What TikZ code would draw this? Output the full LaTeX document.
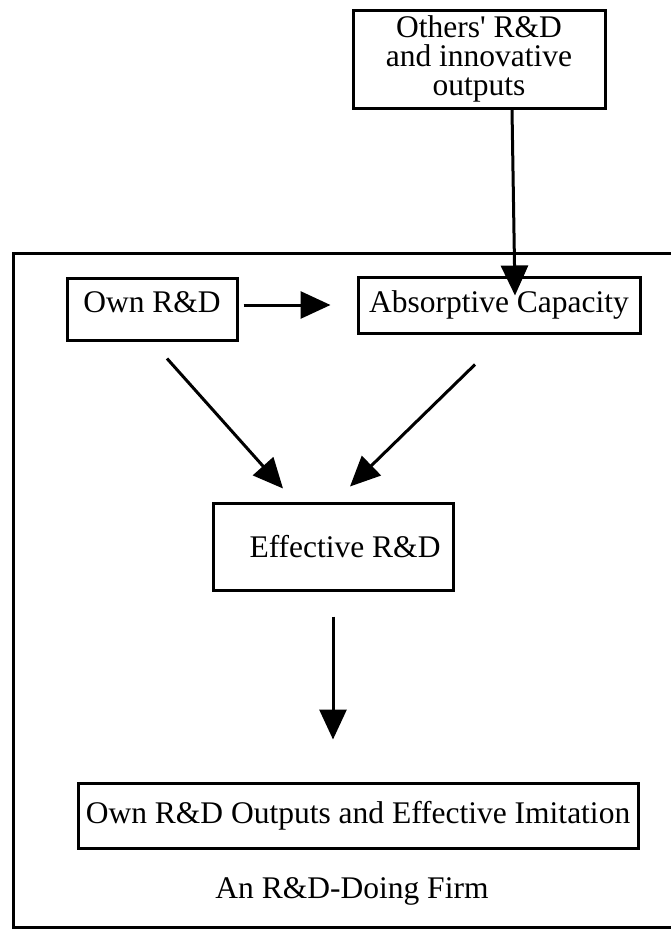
\documentclass[tikz,border=0pt]{standalone}
\usepackage{fontspec}
\setmainfont{Liberation Serif}
\usetikzlibrary{arrows.meta,positioning}
\tikzset{
  box/.style   = {rectangle, draw=black, line width=3pt, align=center,
                  inner sep=0pt, font=\fontsize{31.5}{29}\selectfont},
  fl/.style    = {-{Triangle[length=30pt,width=27pt]}, line width=3pt},
}

\begin{document}
\begin{tikzpicture}[x=1pt,y=-1pt]
    \useasboundingbox (0,0) rectangle (671,929);
    % firm frame
    \draw[line width=3pt] (13,253) rectangle (690,927);
    \node[font=\fontsize{31.5}{29}\selectfont] (firm) at (352,891) {An R\&D-Doing Firm};
    % boxes
    \node[box, minimum width=252pt, minimum height=98pt] (others) at (479,59)
        {Others\textquotesingle{} R\&D\\and innovative\\outputs};
    \node[box, minimum width=170pt, minimum height=62pt, text depth=14pt] (own) at (152,309) {Own R\&D};
    \node[box, minimum width=282pt, minimum height=56pt] (abs) at (499,305) {Absorptive Capacity};
    \node[box, minimum width=240pt, minimum height=87pt] (eff) at (333,546.5) {\hspace*{24pt}Effective R\&D};
    \node[box, minimum width=560pt, minimum height=65pt] (out) at (358,815.5)
        {Own R\&D Outputs and Effective Imitation};
    % flows
    \draw[fl] ([xshift=33pt]others.south) -- ([xshift=16pt,yshift=-20pt]abs.north);
    \draw[fl, shorten <=5pt, shorten >=26pt] (own.east |- abs.west) -- (abs.west);
    \draw[fl] ([xshift=15pt,yshift=-17pt]own.south) -- ([xshift=-50pt,yshift=13pt]eff.north);
    \draw[fl] ([xshift=-24pt,yshift=-30pt]abs.south) -- ([xshift=17pt,yshift=15pt]eff.north);
    \draw[fl] ([yshift=-25pt]eff.south) -- ++(0,123);
\end{tikzpicture}
\end{document}
